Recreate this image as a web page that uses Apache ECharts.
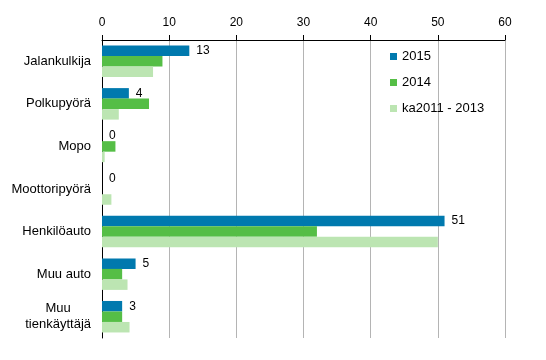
<!DOCTYPE html>
<html lang="fi">
<head>
<meta charset="UTF-8">
<script src="https://cdn.jsdelivr.net/npm/echarts@6/dist/echarts.min.js"></script>
<title>Tieliikenteessä kuolleet</title>
</head>
<body style="margin:0;background:#fff">
<div id="chart" style="width:546px;height:360px"></div>
<script type="text/javascript">
    // kategoriat ja sarjat
    var categories = ['Jalankulkija', 'Polkupyörä', 'Mopo', 'Moottoripyörä', 'Henkilöauto', 'Muu auto', 'Muu\ntienkäyttäjä'];
    var seriesNames = ['2015', '2014', 'ka2011 - 2013'];
    var values2015 = [13, 4, 0, 0, 51, 5, 3];
    var values2014 = [9, 7, 2, 0, 32, 3, 3];
    var valuesKa = [7.6, 2.5, 0.4, 1.4, 50, 3.8, 4.1];
    var xTicks = [0, 10, 20, 30, 40, 50, 60];

    var chart = echarts.init(document.getElementById('chart'));
    var font = 'Liberation Sans, Arial, sans-serif';

    chart.setOption({
        animation: false,
        textStyle: {fontFamily: font},
        legend: {
            orient: 'vertical',
            left: 385,
            top: 45,
            itemWidth: 7,
            itemHeight: 7,
            itemGap: 13,
            icon: 'rect',
            textStyle: {fontSize: 13, color: '#000', fontFamily: font},
            data: seriesNames
        },
        grid: {left: 102, right: 41, top: 40, bottom: 22},
        xAxis: {
            type: 'value',
            position: 'top',
            min: xTicks[0],
            max: xTicks[xTicks.length - 1],
            interval: 10,
            axisLine: {show: true, lineStyle: {color: '#000'}},
            axisTick: {show: true, length: 5, lineStyle: {color: '#000'}},
            axisLabel: {fontSize: 12, color: '#000', margin: 11},
            splitLine: {show: true, lineStyle: {color: '#b4b4b4'}}
        },
        yAxis: {
            type: 'category',
            inverse: true,
            data: categories,
            axisLine: {show: true, lineStyle: {color: '#000'}},
            axisTick: {show: false},
            axisLabel: {
                fontSize: 13,
                color: '#000',
                margin: 11,
                formatter: function (v) {
                    if (v.indexOf('\n') < 0) return v;
                    return v.split('\n').map(function (s) { return '{c|' + s + '}'; }).join('\n');
                },
                rich: {c: {align: 'center', fontSize: 13, color: '#000', lineHeight: 16}}
            }
        },
        series: [
            {
                name: seriesNames[0],
                type: 'bar',
                data: values2015,
                barGap: '0%',
                barCategoryGap: '26%',
                itemStyle: {color: '#0079ae'},
                label: {show: true, position: 'right', distance: 7, fontSize: 12, color: '#000'}
            },
            {
                name: seriesNames[1],
                type: 'bar',
                data: values2014,
                barGap: '0%',
                barCategoryGap: '26%',
                itemStyle: {color: '#55be46'}
            },
            {
                name: seriesNames[2],
                type: 'bar',
                data: valuesKa,
                barGap: '0%',
                barCategoryGap: '26%',
                itemStyle: {color: '#bce5b2'}
            }
        ]
    });
</script>
</body>
</html>
